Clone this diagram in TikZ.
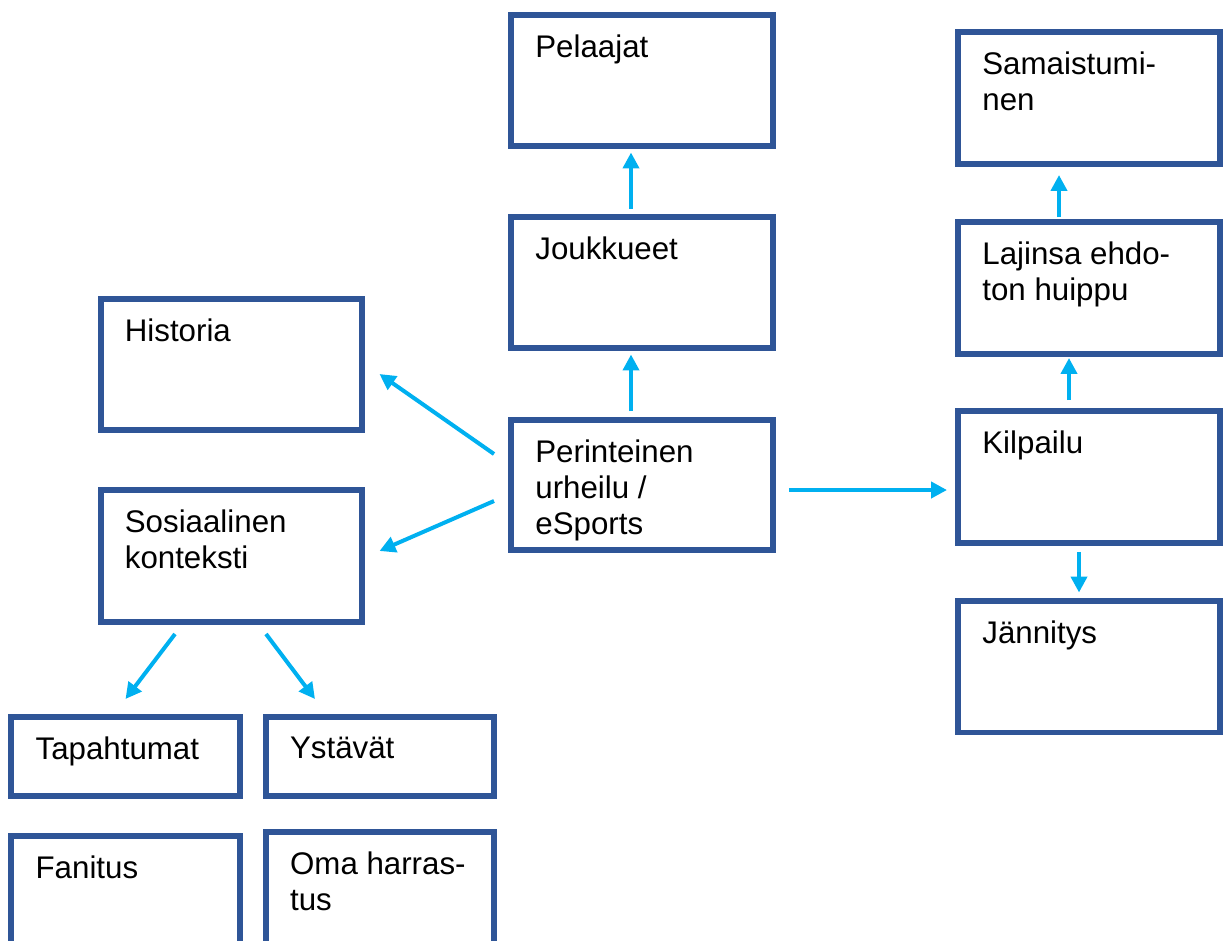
\documentclass[tikz,border=0pt]{standalone}
\usepackage{fontspec}
\setmainfont{Liberation Sans}
\usetikzlibrary{arrows.meta}

\definecolor{boxblue}{HTML}{2F5597}
\definecolor{arrcyan}{HTML}{00B0F0}

\tikzset{
  box/.style = {draw=boxblue, line width=0.12cm, minimum width=5.24cm, minimum height=2.64cm, inner sep=0, outer sep=0},
  smallbox/.style = {box, minimum width=4.57cm, minimum height=1.58cm},
  tallbox/.style = {box, minimum width=4.57cm, minimum height=2.6cm},
  lbl/.style = {anchor=north west, xshift=0.48cm, yshift=-0.39cm, inner sep=0, align=left, font=\fontsize{17.8}{20.4}\selectfont},
  arr/.style = {draw=arrcyan, line width=0.08cm, -{Triangle[length=0.32cm, width=0.32cm]}}
}

\begin{document}
\begin{tikzpicture}[x=0.02cm, y=-0.02cm]

\useasboundingbox (0,0) rectangle (1223,940);

% middle column
\node[box, label={[lbl]north west:Pelaajat}] (pel) at (642, 80.5) {};
\node[box, label={[lbl]north west:Joukkueet}] (jouk) at (642, 282.5) {};
\node[box, minimum height=2.6cm, label={[lbl]north west:Perinteinen\\urheilu /\\eSports}] (perin) at (642, 485) {};

% left side
\node[box, label={[lbl]north west:Historia}] (hist) at (231.5, 364.5) {};
\node[box, label={[lbl]north west:Sosiaalinen\\konteksti}] (sos) at (231.5, 556) {};
\node[smallbox, label={[lbl]north west:Tapahtumat}] (tap) at (125.5, 756.5) {};
\node[smallbox, label={[lbl]north west:Ystävät}] (yst) at (380, 756.5) {};
\node[tallbox, label={[lbl]north west:Fanitus}] (fan) at (125.5, 901) {};
\node[tallbox, label={[lbl]north west:Oma harras-\\tus}] (oma) at (380, 897) {};

% right column
\node[box, label={[lbl]north west:Samaistumi-\\nen}] (sam) at (1089, 98) {};
\node[box, label={[lbl]north west:Lajinsa ehdo-\\ton huippu}] (laj) at (1089, 288) {};
\node[box, label={[lbl]north west:Kilpailu}] (kil) at (1089, 477) {};
\node[box, label={[lbl]north west:Jännitys}] (jan) at (1089, 666.5) {};

% arrows
\draw[arr] ([shift={(-11,-8)}]jouk.north) -- ([shift={(-11,6)}]pel.south);
\draw[arr] ([shift={(-11,-9)}]perin.north) -- ([shift={(-11,6)}]jouk.south);
\draw[arr] ([shift={(-17,-31)}]perin.west) -- ([shift={(17,9.5)}]hist.east);
\draw[arr] ([shift={(-17,16)}]perin.west) -- ([shift={(17,-5)}]sos.east);
\draw[arr] ([shift={(-56.5,12)}]sos.south) -- ([shift={(0,-18)}]tap.north);
\draw[arr] ([shift={(34.5,12)}]sos.south) -- ([shift={(-65,-18)}]yst.north);
\draw[arr] ([shift={(16,5)}]perin.east) -- ([shift={(-11,13)}]kil.west);
\draw[arr] ([shift={(-10,9)}]kil.south) -- ([shift={(-10,-8)}]jan.north);
\draw[arr] ([shift={(-20,-11)}]kil.north) -- ([shift={(-20,4)}]laj.south);
\draw[arr] ([shift={(-30,-5)}]laj.north) -- ([shift={(-30,11)}]sam.south);

\end{tikzpicture}
\end{document}
